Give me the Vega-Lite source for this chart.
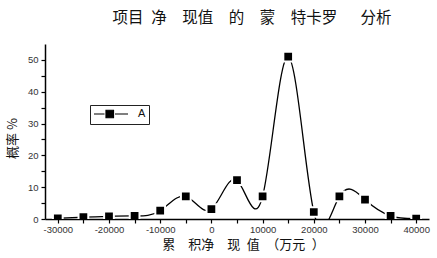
{
  "$schema": "https://vega.github.io/schema/vega-lite/v6.json",
  "width": 384,
  "height": 175,
  "autosize": "none",
  "padding": {"left": 45, "top": 44, "right": 8, "bottom": 39},
  "background": "white",
  "config": {
    "view": {"stroke": null},
    "font": "Liberation Sans",
    "axis": {"domainColor": "black", "domainWidth": 1.5, "tickColor": "black", "tickWidth": 1.2, "grid": false, "labelFont": "Liberation Sans", "labelFontSize": 9.5, "labelColor": "#333"}
  },
  "title": {
    "text": "项目\u2002净\u3000现值\u3000的\u3000蒙\u3000特卡罗\u3000\u2002分析",
    "font": "Noto Sans CJK SC",
    "fontSize": 15.5,
    "fontWeight": "normal",
    "color": "#111",
    "anchor": "middle",
    "dx": 15,
    "baseline": "middle",
    "offset": 11
  },
  "data": {
    "values": [
      {"npv": -30000, "p": 0.2, "s": "A"},
      {"npv": -25000, "p": 0.6, "s": "A"},
      {"npv": -20000, "p": 0.85, "s": "A"},
      {"npv": -15000, "p": 0.95, "s": "A"},
      {"npv": -10000, "p": 2.6, "s": "A"},
      {"npv": -5000, "p": 7.1, "s": "A"},
      {"npv": 0, "p": 3.1, "s": "A"},
      {"npv": 5000, "p": 12.2, "s": "A"},
      {"npv": 10000, "p": 7.1, "s": "A"},
      {"npv": 15000, "p": 51, "s": "A"},
      {"npv": 20000, "p": 2.2, "s": "A"},
      {"npv": 25000, "p": 7.1, "s": "A"},
      {"npv": 30000, "p": 6.1, "s": "A"},
      {"npv": 35000, "p": 0.95, "s": "A"},
      {"npv": 40000, "p": 0.1, "s": "A"}
    ]
  },
  "encoding": {
    "x": {
      "field": "npv", "type": "quantitative",
      "scale": {"domain": [-32500, 42500], "nice": false, "zero": false},
      "axis": {
        "values": [-30000,-25000,-20000,-15000,-10000,-5000,0,5000,10000,15000,20000,25000,30000,35000,40000],
        "labelExpr": "datum.value % 10000 === 0 ? '' + datum.value : ''",
        "tickSize": 4, "labelPadding": 1, "labelFlush": false,
        "title": "累\u3000积净\u3000现\u2002值\u2002（万元\u2002）",
        "titleFont": "Noto Sans CJK SC", "titleFontSize": 13, "titleFontWeight": "normal", "titleColor": "#111",
        "titleX": 198, "titleY": 25, "titleBaseline": "middle", "titleAlign": "center"
      }
    },
    "y": {
      "field": "p", "type": "quantitative",
      "scale": {"domain": [0, 55], "nice": false},
      "axis": {
        "values": [0,5,10,15,20,25,30,35,40,45,50],
        "labelExpr": "datum.value % 10 === 0 ? '' + datum.value : ''",
        "tickSize": 4, "labelPadding": 3,
        "title": "概率 %",
        "titleFont": "Noto Sans CJK SC", "titleFontSize": 13, "titleFontWeight": "normal", "titleColor": "#111",
        "titleX": -33, "titleY": 94, "titleBaseline": "middle", "titleAlign": "center", "titleAngle": 270
      }
    }
  },
  "layer": [
    {
      "mark": {"type": "line", "interpolate": "natural", "color": "black", "strokeWidth": 1.3, "clip": true},
      "encoding": {}
    },
    {
      "mark": {"type": "point", "shape": "square", "filled": true, "size": 95, "stroke": "white", "strokeWidth": 2, "opacity": 1, "clip": true},
      "encoding": {
        "color": {
          "field": "s", "type": "nominal",
          "scale": {"range": ["black"]},
          "legend": {
            "title": null, "orient": "none", "legendX": 45, "legendY": 61,
            "strokeColor": "#222", "padding": 3,
            "symbolType": "M-1,0H1.1M3.2,0H5.8M1.4,-0.75H2.9V0.75H1.4Z",
            "symbolSize": 100, "symbolFillColor": "black", "symbolStrokeColor": "black", "symbolStrokeWidth": 1.2,
            "labelFont": "Liberation Sans", "labelFontSize": 11, "labelColor": "#111", "labelOffset": 33
          }
        }
      }
    }
  ]
}
